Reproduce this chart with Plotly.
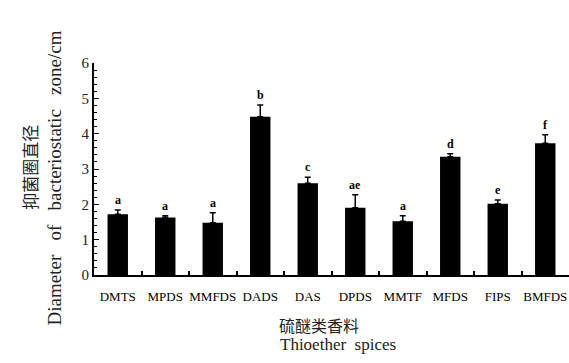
import plotly.graph_objects as go

# Inhibition zone diameters of thioether spices
spices = ["DMTS", "MPDS", "MMFDS", "DADS", "DAS", "DPDS", "MMTF", "MFDS", "FIPS", "BMFDS"]
diameter = [1.72, 1.63, 1.48, 4.48, 2.60, 1.90, 1.52, 3.35, 2.02, 3.73]
sd = [0.12, 0.05, 0.28, 0.33, 0.17, 0.37, 0.16, 0.08, 0.10, 0.24]
letters = ["a", "a", "a", "b", "c", "ae", "a", "d", "e", "f"]

SERIF = "Liberation Serif"
CJK = "Noto Sans CJK SC"

fig = go.Figure(
    go.Bar(
        x=spices,
        y=diameter,
        width=0.43,
        marker=dict(color="black", line=dict(width=0)),
        error_y=dict(
            type="data",
            symmetric=False,
            array=sd,
            arrayminus=[0] * len(sd),
            color="black",
            thickness=1.5,
            width=3,
        ),
    )
)

# significance letters above the error bars
for s, v, e, t in zip(spices, diameter, sd, letters):
    fig.add_annotation(
        x=s, y=v + e, text="<b>%s</b>" % t, showarrow=False,
        yanchor="bottom", yshift=1,
        font=dict(family=SERIF, size=12, color="black"),
    )

nb = "\u00a0"
# axis titles
fig.add_annotation(
    xref="paper", yref="paper", x=-0.135, y=0.51, text="抑菌圈直径",
    textangle=-90, showarrow=False, xanchor="center", yanchor="middle",
    font=dict(family=CJK, size=17, color="#222"),
)
fig.add_annotation(
    xref="paper", yref="paper", x=-0.083, y=0.458,
    text=("Diameter" + nb * 3 + "of" + nb * 3 + "bacteriostatic" + nb * 3 + "zone/cm"),
    textangle=-90, showarrow=False, xanchor="center", yanchor="middle",
    font=dict(family=SERIF, size=19, color="#222"),
)
fig.add_annotation(
    xref="paper", yref="paper", x=0.474, y=-0.236, text="硫醚类香料",
    showarrow=False, xanchor="center", yanchor="middle",
    font=dict(family=CJK, size=16, color="#222"),
)
fig.add_annotation(
    xref="paper", yref="paper", x=0.514, y=-0.33,
    text="Thioether" + nb * 2 + "spices",
    showarrow=False, xanchor="center", yanchor="middle",
    font=dict(family=SERIF, size=17, color="#222"),
)

fig.update_layout(
    width=569, height=363,
    margin=dict(l=94, r=0, t=63, b=88),
    paper_bgcolor="white", plot_bgcolor="white",
    showlegend=False,
    bargap=0.57,
)
fig.update_xaxes(
    type="category",
    tickson="boundaries",
    tickangle=0,
    ticklabelstandoff=8,
    ticks="inside", ticklen=4, tickwidth=1.5, tickcolor="black",
    showline=True, linecolor="black", linewidth=2,
    showgrid=False, zeroline=False,
    tickfont=dict(family=SERIF, size=13, color="black"),
    range=[-0.5, 9.5],
)
fig.update_yaxes(
    range=[0, 6], dtick=1, tick0=0,
    ticks="inside", ticklen=5, tickwidth=1.2, tickcolor="black",
    minor=dict(dtick=0.2, ticks="inside", ticklen=3, tickwidth=1, tickcolor="black"),
    showline=True, linecolor="black", linewidth=2,
    showgrid=False, zeroline=False,
    tickfont=dict(family=SERIF, size=15, color="#222"),
)

fig.write_html("out.html")
